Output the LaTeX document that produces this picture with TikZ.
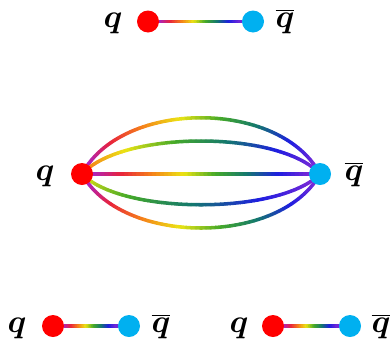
\documentclass[tikz,border=0pt]{standalone}
\usepackage{fix-cm}
\usepackage{bm}
\usetikzlibrary{calc}
\definecolor{rb0}{RGB}{165,35,205}
\definecolor{rb1}{RGB}{232,35,60}
\definecolor{rb2}{RGB}{245,130,25}
\definecolor{rb3}{RGB}{235,228,20}
\definecolor{rb4}{RGB}{70,170,40}
\definecolor{rb5}{RGB}{20,120,110}
\definecolor{rb6}{RGB}{30,30,225}
\definecolor{rb7}{RGB}{120,40,215}
\definecolor{qred}{RGB}{255,0,0}
\definecolor{qblue}{RGB}{0,176,240}
\pgfdeclarelayer{bg}
\pgfsetlayers{bg,main}
\newcommand\rbcolor[1]{%
  \pgfmathsetmacro\rbs{min(max(#1,0),1)*7}%
  \pgfmathtruncatemacro\rbk{min(floor(\rbs),6)}%
  \pgfmathtruncatemacro\rbkk{\rbk+1}%
  \pgfmathsetmacro\rbp{100*(1-(\rbs-\rbk))}%
  \colorlet{segc}{rb\rbk!\rbp!rb\rbkk}%
}
\newcommand\rbpath[4]{%
  \path #1 foreach \i in {0,...,#2}{coordinate[pos=\i/#2] (rp\i)};
  \foreach \i in {1,...,#2}{%
    \pgfmathtruncatemacro\j{\i-1}%
    \rbcolor{#3+#4*(\i-0.5)/#2}%
    \draw[rbline,segc] (rp\j) -- (rp\i);
  }%
}
\tikzset{
  rbline/.style={line width=2pt,line cap=round},
  qdot/.style={circle,fill=qred,minimum size=0.44cm,inner sep=0pt},
  qbdot/.style={circle,fill=qblue,minimum size=0.44cm,inner sep=0pt},
  qlab/.style={anchor=base,inner sep=0pt,font=\fontsize{18.5}{22}\selectfont},
}
\begin{document}
\begin{tikzpicture}[x=0.02cm,y=-0.02cm]
\useasboundingbox (0,0) rectangle (391,342);
% top pair
\node[qdot]  (r1) at (148,21.5) {};
\node[qbdot] (b1) at (253,21.5) {};
\node[qlab]  (l1) at (113,27.5) {$\bm{q}$};
\node[qlab]  (m1) at (285,27.5) {$\overline{\bm{q}}$};
% middle
\node[qdot]  (r2) at (82,174) {};
\node[qbdot] (b2) at (320,174) {};
\node[qlab]  (l2) at (45,180) {$\bm{q}$};
\node[qlab]  (m2) at (354,180) {$\overline{\bm{q}}$};
% bottom left
\node[qdot]  (r3) at (53,326) {};
\node[qbdot] (b3) at (129,326) {};
\node[qlab]  (l3) at (17,332) {$\bm{q}$};
\node[qlab]  (m3) at (161,332) {$\overline{\bm{q}}$};
% bottom right
\node[qdot]  (r4) at (273,326) {};
\node[qbdot] (b4) at (350,326) {};
\node[qlab]  (l4) at (239,332) {$\bm{q}$};
\node[qlab]  (m4) at (381,332) {$\overline{\bm{q}}$};
\begin{pgfonlayer}{bg}
\rbpath{(r1) -- (b1)}{30}{0}{1}
\rbpath{(r3) -- (b3)}{30}{0}{1}
\rbpath{(r4) -- (b4)}{30}{0}{1}
\rbpath{(r2.center) -- (b2.center)}{60}{-0.04}{1.08}
\rbpath{(r2.center) .. controls +(40,-75) and +(-40,-75) .. (b2.center)}{60}{-0.04}{1.08}
\rbpath{(r2.center) .. controls +(40,-44) and +(-40,-44) .. (b2.center)}{60}{0.24}{0.8}
\rbpath{(r2.center) .. controls +(40,41) and +(-40,41) .. (b2.center)}{60}{0.42}{0.62}
\rbpath{(r2.center) .. controls +(40,72) and +(-40,72) .. (b2.center)}{60}{-0.04}{1.08}
\end{pgfonlayer}
\end{tikzpicture}
\end{document}
